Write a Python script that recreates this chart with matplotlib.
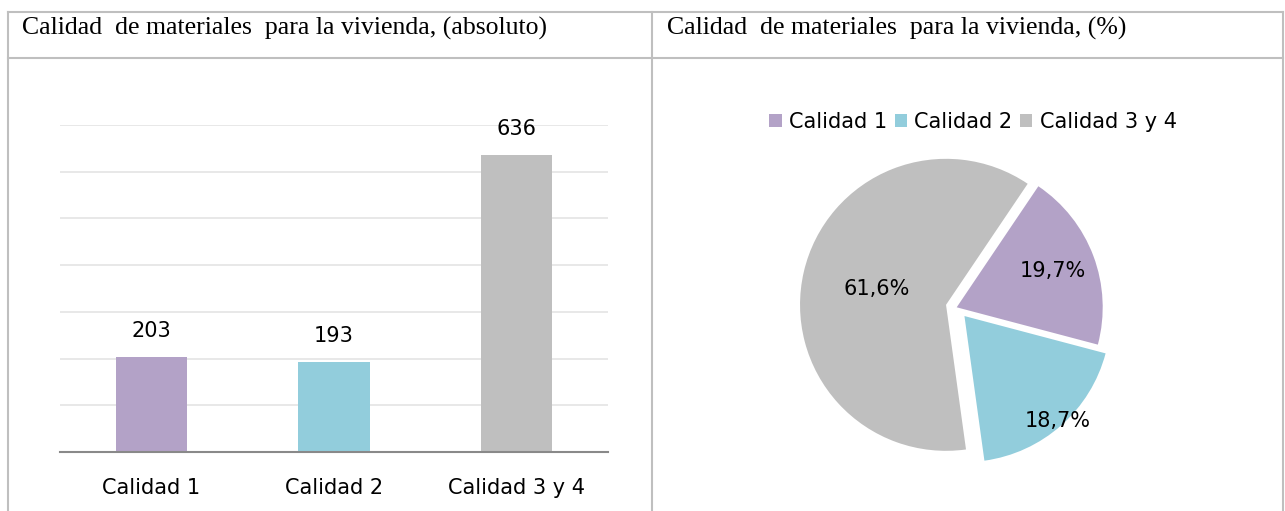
import matplotlib
matplotlib.use('Agg')
import matplotlib.pyplot as plt
from matplotlib.lines import Line2D
import numpy as np

# data
categorias = ['Calidad 1', 'Calidad 2', 'Calidad 3 y 4']
viviendas = [203, 193, 636]
colores = ['#B3A2C7', '#92CDDC', '#BFBFBF']
titulo_abs = 'Calidad  de materiales  para la vivienda, (absoluto)'
titulo_pct = 'Calidad  de materiales  para la vivienda, (%)'

plt.rcParams['font.family'] = 'DejaVu Sans'
W, H = 1285, 511
fig = plt.figure(figsize=(W / 100, H / 100), dpi=100)

def fx(px):
    return px / W

def fy(px):
    return 1 - px / H

#table borders
borde = '#BFBFBF'
for y in [12, 58]:
    fig.add_artist(Line2D([fx(8), fx(1283)], [fy(y), fy(y)], color=borde, lw=1.5))
for x in [8, 652, 1283]:
    fig.add_artist(Line2D([fx(x), fx(x)], [fy(12), fy(H)], color=borde, lw=1.5))

fig.text(fx(22), fy(28), titulo_abs, family='Liberation Serif', fontsize=18.5, va='center', ha='left')
fig.text(fx(667), fy(28), titulo_pct, family='Liberation Serif', fontsize=18.5, va='center', ha='left')

# bar chart
ax = fig.add_axes([fx(60), fy(452), fx(608) - fx(60), fy(125) - fy(452)])
pos = range(len(categorias))
bars = ax.bar(pos, viviendas, width=0.39, color=colores, zorder=3)
ax.set_xlim(-0.5, 2.5)
ax.set_ylim(0, 700)
ax.set_yticks(range(100, 701, 100))
ax.yaxis.grid(True, color='#E8E8E8', lw=1.4, zorder=0)
ax.set_yticklabels([])
ax.tick_params(axis='y', length=0)
ax.set_xticks(list(pos))
ax.set_xticklabels(categorias, fontsize=15)
ax.tick_params(axis='x', length=0, pad=19)
for s in ['top', 'right', 'left']:
    ax.spines[s].set_visible(False)
ax.spines['bottom'].set_color('#898989')
ax.spines['bottom'].set_linewidth(1.5)
ax.spines['bottom'].set_zorder(4)
for b, v in zip(bars, viviendas):
    ax.annotate(str(v), xy=(b.get_x() + b.get_width() / 2, v), xytext=(0, 18.5),
                textcoords='offset points', ha='center', va='center', fontsize=15)

# pie chart
k = 1.2
r_px = 146
cx, cy = 956.7, 307.3
ax2 = fig.add_axes([fx(cx - k * r_px), fy(cy + k * r_px), 2 * k * r_px / W, 2 * k * r_px / H])
wedges, texts, autotexts = ax2.pie(viviendas, colors=colores, startangle=56, counterclock=False,
                                   explode=[0, 0.08, 0.075],
                                   autopct=lambda p: ('%.1f%%' % p).replace('.', ','),
                                   textprops={'fontsize': 15})
ax2.set_xlim(-k, k)
ax2.set_ylim(-k, k)
ax2.set_aspect('equal')
ax2.axis('off')

dist_lbl = [0.70, 0.96, 0.49]  # excel best fit label spots
for w, t, d in zip(wedges, autotexts, dist_lbl):
    th = np.deg2rad((w.theta1 + w.theta2) / 2)
    t.set_position((w.center[0] + d * w.r * np.cos(th), w.center[1] + d * w.r * np.sin(th)))
    t.set_ha('center')
    t.set_va('center')

fig.legend(wedges, categorias, loc='center', bbox_to_anchor=(fx(973), fy(122)), ncol=3,
           frameon=False, fontsize=15, handlelength=0.6, handleheight=0.6,
           handletextpad=0.35, columnspacing=0.35, borderaxespad=0)

fig.savefig('out.png', dpi=100)
